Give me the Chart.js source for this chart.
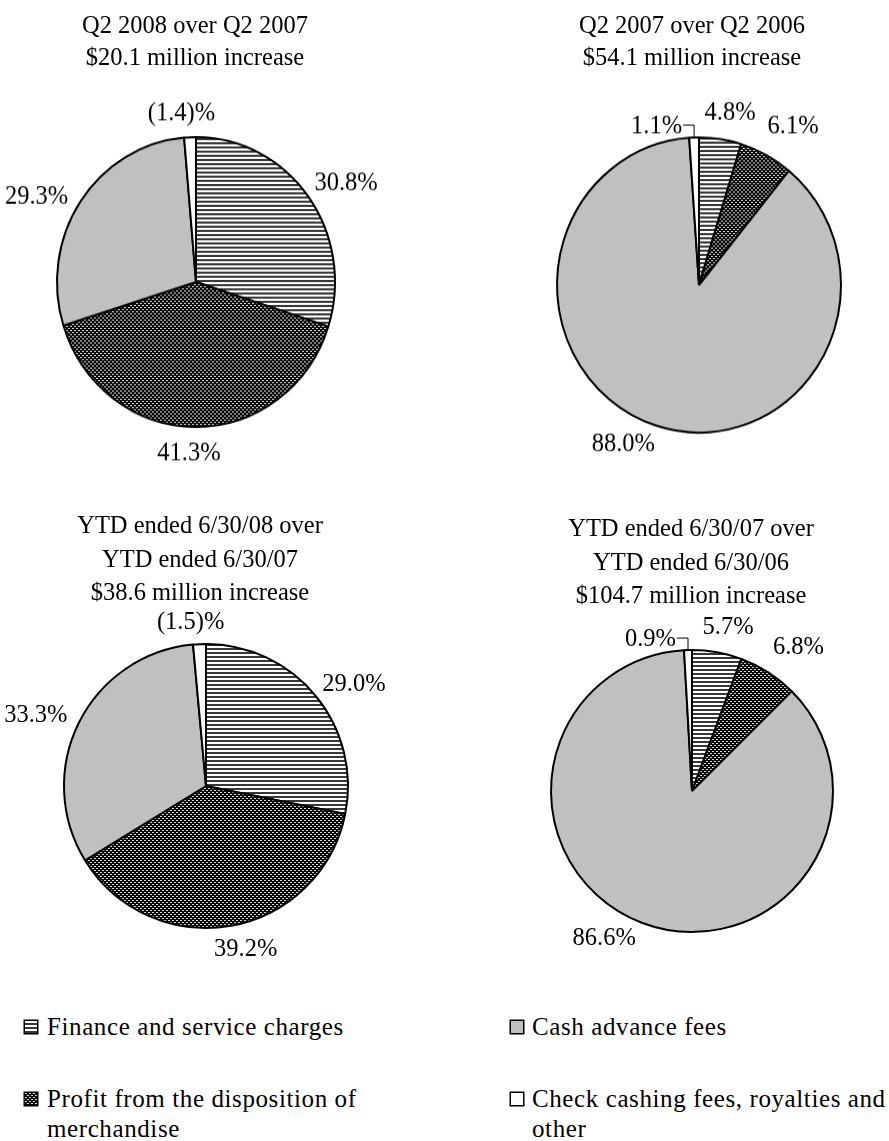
<!DOCTYPE html>
<html>
<head>
<meta charset="utf-8">
<script src="https://cdn.jsdelivr.net/npm/chart.js@4.4.1/dist/chart.umd.min.js"></script>
<style>
  html, body { margin: 0; padding: 0; }
  body {
    width: 889px; height: 1141px; overflow: hidden; position: relative;
    background: #fff; color: #000;
    font-family: 'Liberation Serif', 'Times New Roman', serif;
  }
  .pie { position: absolute; transform-origin: 50% 50%; }
  .pie canvas { display: block; }
  .title {
    position: absolute; width: 440px; text-align: center;
    font-size: 24.5px; white-space: nowrap; z-index: 2;
  }
  .legend-item {
    position: absolute; font-size: 25px; line-height: 30px;
    letter-spacing: 0.6px; white-space: nowrap;
  }
  .swatch { position: absolute; display: block; }
</style>
</head>
<body>
<script>
// Revenue-change categories, in slice order (clockwise from 12 o'clock)
const categories = [
  'Finance and service charges',
  'Profit from the disposition of merchandise',
  'Cash advance fees',
  'Check cashing fees, royalties and other'
];
// Share of each period's revenue increase (%); a negative share is a decrease
const q2_2008_vs_2007 = [30.8, 41.3, 29.3, -1.4];
const q2_2007_vs_2006 = [4.8, 6.1, 88.0, 1.1];
const ytd_2008_vs_2007 = [29.0, 39.2, 33.3, -1.5];
const ytd_2007_vs_2006 = [5.7, 6.8, 86.6, 0.9];

const titleQ2_2008 = ['Q2 2008 over Q2 2007', '$20.1 million increase'];
const titleQ2_2007 = ['Q2 2007 over Q2 2006', '$54.1 million increase'];
const titleYtd2008 = ['YTD ended 6/30/08 over', 'YTD ended 6/30/07', '$38.6 million increase'];
const titleYtd2007 = ['YTD ended 6/30/07 over', 'YTD ended 6/30/06', '$104.7 million increase'];

// legend text lines per category
const legendLines = [
  ['Finance and service charges'],
  ['Profit from the disposition of', 'merchandise'],
  ['Cash advance fees'],
  ['Check cashing fees, royalties and', 'other']
];

// ---- fills ----
function makeTile(kind) {
  const t = document.createElement('canvas');
  const g = t.getContext('2d');
  t.width = 4; t.height = 4;
  if (kind === 'stripes') {
    g.fillStyle = '#ffffff'; g.fillRect(0, 0, 4, 4);
    g.fillStyle = '#383838'; g.fillRect(0, 0, 4, 2);
  } else {
    g.fillStyle = '#0a0a0a'; g.fillRect(0, 0, 4, 4);
    g.fillStyle = '#d6d6d6'; g.fillRect(0, 0, 2, 1); g.fillRect(2, 2, 2, 1);
  }
  return t;
}
function fillsFor(ctx) {
  return [
    ctx.createPattern(makeTile('stripes'), 'repeat'),
    ctx.createPattern(makeTile('dots'), 'repeat'),
    '#c0c0c0',
    '#ffffff'
  ];
}

function fmtShare(v) {
  return v < 0 ? '(' + Math.abs(v).toFixed(1) + ')%' : v.toFixed(1) + '%';
}

// Outside-end labels; a tiny slice can take a leader line to a label on its left
const sliceLabels = {
  id: 'sliceLabels',
  afterDatasetsDraw(chart, args, opts) {
    const ctx = chart.ctx;
    const ds = chart.data.datasets[0];
    const meta = chart.getDatasetMeta(0);
    const nudge = opts.nudge || [];
    const push = opts.push || [];
    ctx.save();
    ctx.font = opts.font;
    ctx.fillStyle = '#000';
    ctx.strokeStyle = '#000';
    ctx.lineWidth = 1;
    ctx.textBaseline = 'alphabetic';
    meta.data.forEach((arc, i) => {
      const p = arc.getProps(['x', 'y', 'startAngle', 'endAngle', 'outerRadius'], true);
      const mid = (p.startAngle + p.endAngle) / 2 + (nudge[i] || 0) * Math.PI / 180;
      const ux = Math.cos(mid), uy = Math.sin(mid);
      const text = fmtShare(ds.signed[i]);
      const w = ctx.measureText(text).width;
      if (opts.leader === i) {
        const am = (p.startAngle + p.endAngle) / 2;
        const ax = p.x + p.outerRadius * Math.cos(am), ay = p.y + p.outerRadius * Math.sin(am);
        const ly = ay - opts.leaderRise;
        ctx.beginPath();
        ctx.moveTo(ax - opts.leaderRun, ly);
        ctx.lineTo(ax, ly);
        ctx.lineTo(ax, ay);
        ctx.stroke();
        ctx.textAlign = 'right';
        ctx.fillText(text, ax - opts.leaderRun - 1, ly + opts.digitHalf);
      } else {
        const r = p.outerRadius + opts.gap + (push[i] || 0);
        const cx = p.x + r * ux + ux * w / 2;
        const cy = p.y + r * uy + uy * opts.boxHalf;
        ctx.textAlign = 'center';
        ctx.fillText(text, cx, cy + opts.digitHalf);
      }
    });
    ctx.restore();
  }
};

const W = 460, H = 420;
const pies = [
  { values: q2_2008_vs_2007, title: titleQ2_2008, cx: 196, cy: 282, r: 139, sy: 1.043, tx: 195, ty: 9,  lh: 32,
    leader: null, nudge: [0, 2, -3, -2], push: [0, 0, 0, 0] },
  { values: q2_2007_vs_2006, title: titleQ2_2007, cx: 699, cy: 284.5, r: 142, sy: 1.039, tx: 692, ty: 9,  lh: 32,
    leader: 3, nudge: [1, 1, 6, 0], push: [3, 10, 0, 0] },
  { values: ytd_2008_vs_2007, title: titleYtd2008, cx: 205.5, cy: 786, r: 142, sy: 1.0, tx: 200, ty: 508, lh: 33.5,
    leader: null, nudge: [1, -2, -1, -2], push: [0, 0, 0, 0] },
  { values: ytd_2007_vs_2006, title: titleYtd2007, cx: 692, cy: 791, r: 141, sy: 1.0, tx: 691, ty: 511, lh: 33.5,
    leader: 3, nudge: [1, 1, 7, 0], push: [3, 10, 0, 0] }
];

pies.forEach(cfg => {
  const t = document.createElement('div');
  t.className = 'title';
  t.style.left = (cfg.tx - 220) + 'px';
  t.style.top = cfg.ty + 'px';
  t.style.lineHeight = cfg.lh + 'px';
  t.innerHTML = cfg.title.join('<br>');
  document.body.appendChild(t);

  const box = document.createElement('div');
  box.className = 'pie';
  box.style.left = (cfg.cx - W / 2) + 'px';
  box.style.top = (cfg.cy - H / 2) + 'px';
  box.style.width = W + 'px';
  box.style.height = H + 'px';
  box.style.transform = 'scaleY(' + cfg.sy + ')';
  const cv = document.createElement('canvas');
  cv.width = W; cv.height = H;
  box.appendChild(cv);
  document.body.appendChild(box);

  const ctx = cv.getContext('2d');
  new Chart(ctx, {
    type: 'pie',
    data: {
      labels: categories,
      datasets: [{
        data: cfg.values.map(v => Math.abs(v)),
        signed: cfg.values,
        backgroundColor: fillsFor(ctx),
        borderColor: '#000',
        borderWidth: 2,
        hoverOffset: 0
      }]
    },
    options: {
      responsive: false,
      animation: false,
      devicePixelRatio: 1,
      radius: cfg.r,
      rotation: 0,
      layout: { padding: 0 },
      events: [],
      plugins: {
        legend: { display: false },
        tooltip: { enabled: false },
        title: { display: false },
        sliceLabels: {
          font: "24.5px 'Liberation Serif', 'Times New Roman', serif",
          gap: 15, boxHalf: 9, digitHalf: 8,
          nudge: cfg.nudge, push: cfg.push,
          leader: cfg.leader, leaderRise: 12, leaderRun: 11
        }
      }
    },
    plugins: [sliceLabels]
  });
});

// ---- legend ----
const legendPos = [
  { sx: 23, tx: 47, top: 1012 },
  { sx: 23, tx: 47, top: 1084 },
  { sx: 509, tx: 532, top: 1012 },
  { sx: 509, tx: 532, top: 1084 }
];
categories.forEach((name, i) => {
  const pos = legendPos[i];
  const sw = document.createElement('canvas');
  sw.className = 'swatch';
  sw.width = 16; sw.height = 16;
  sw.style.left = pos.sx + 'px';
  sw.style.top = (pos.top + 15 - 8) + 'px';
  document.body.appendChild(sw);
  const g = sw.getContext('2d');
  g.fillStyle = fillsFor(g)[i];
  g.fillRect(1, 1, 14, 14);
  g.strokeStyle = '#000';
  g.lineWidth = 1.5;
  g.strokeRect(1.25, 1.25, 13.5, 13.5);

  const item = document.createElement('div');
  item.className = 'legend-item';
  item.style.left = pos.tx + 'px';
  item.style.top = pos.top + 'px';
  item.innerHTML = legendLines[i].join('<br>');
  document.body.appendChild(item);
});
</script>
</body>
</html>
